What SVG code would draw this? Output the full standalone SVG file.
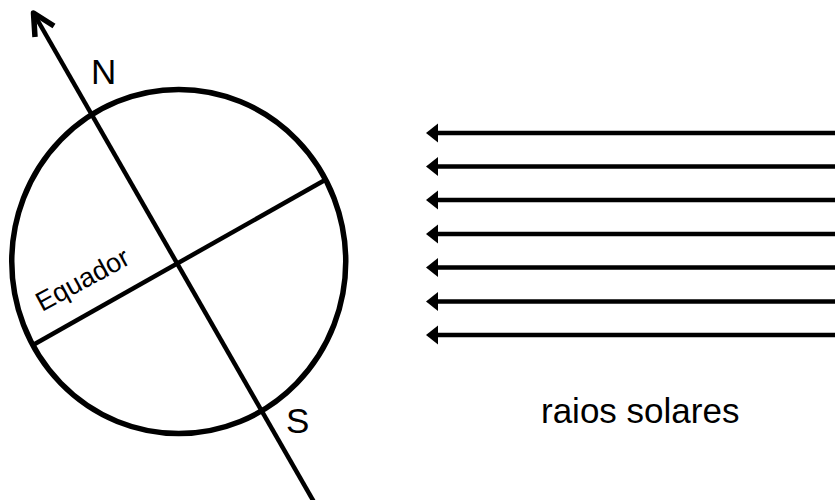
<svg xmlns="http://www.w3.org/2000/svg" width="835" height="500" viewBox="0 0 835 500">
  <style>
    .ink { fill: none; stroke: #000; stroke-linecap: butt; }
    .lbl { font-family: "Liberation Sans", Arial, sans-serif; fill: #000; }
    .ray { fill: none; stroke: #000; stroke-width: 4.5; }
    .head { fill: #000; }
  </style>
  <defs>
    <!-- one sun ray: shaft plus filled head pointing left, tip at x=0 -->
    <g id="ray">
      <line class="ray" x1="8" y1="0" x2="420" y2="0"/>
      <path class="head" d="M0,0 L12,-9.5 L12,9.5 Z"/>
    </g>
  </defs>
  <rect width="835" height="500" fill="#fff"/>

  <!-- Earth globe with equator -->
  <g id="globe">
    <ellipse class="ink" cx="178.75" cy="261.5" rx="167" ry="172" stroke-width="5.5"/>
    <line class="ink" x1="33" y1="345" x2="325" y2="180" stroke-width="4.5"/>
    <text class="lbl" font-size="27" transform="translate(42,312) rotate(-28.5)">Equador</text>
  </g>

  <g id="label-n"><text class="lbl" x="91" y="84" font-size="35">N</text></g>
  <g id="label-s"><text class="lbl" x="286" y="432.5" font-size="35">S</text></g>
  <g id="label-rays"><text class="lbl" x="541" y="422.5" font-size="35">raios solares</text></g>

  <!-- Connectors: rotation axis and sun rays -->
  <g id="connectors">
    <line class="ink" x1="34" y1="14" x2="314" y2="502" stroke-width="4.5"/>
    <path class="ink" d="M35,37 L33.5,13 L54,26" stroke-width="5.5" stroke-linecap="round" stroke-linejoin="round"/>
    <use href="#ray" x="426" y="133"/>
    <use href="#ray" x="426" y="166.5"/>
    <use href="#ray" x="426" y="200"/>
    <use href="#ray" x="426" y="234"/>
    <use href="#ray" x="426" y="267.5"/>
    <use href="#ray" x="426" y="301.5"/>
    <use href="#ray" x="426" y="335"/>
  </g>
</svg>
